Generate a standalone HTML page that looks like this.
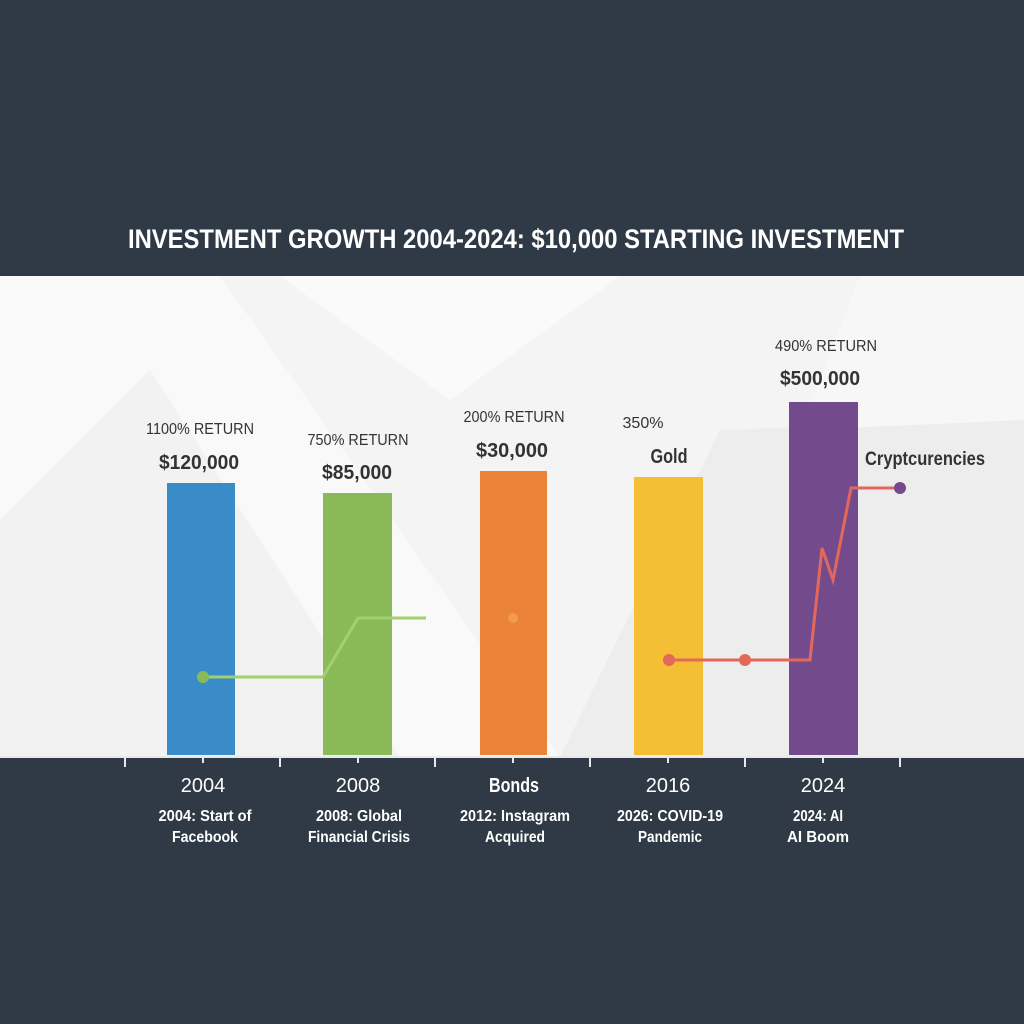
<!DOCTYPE html>
<html><head><style>html,body{margin:0;padding:0;background:#2f3a46}svg{display:block}</style></head><body>
<svg width="1024" height="1024" viewBox="0 0 1024 1024" xmlns="http://www.w3.org/2000/svg" font-family="Liberation Sans, sans-serif">
<rect width="1024" height="1024" fill="#2f3a46"/>
<rect x="0" y="276" width="1024" height="481" fill="#f4f4f4"/>
<polygon points="0,276 220,276 560,757 0,757" fill="#f9f9f9"/>
<polygon points="0,520 150,370 400,757 0,757" fill="#ededed" opacity="0.6"/>
<polygon points="280,276 620,276 450,400" fill="#fafafa"/>
<polygon points="720,430 1024,420 1024,757 560,757" fill="#e9e9e9" opacity="0.7"/>
<polygon points="860,276 1024,276 1024,420 800,430" fill="#f7f7f7"/>
<text x="516" y="248" text-anchor="middle" fill="#fff" font-weight="bold" font-size="27" textLength="776" lengthAdjust="spacingAndGlyphs">INVESTMENT GROWTH 2004-2024: $10,000 STARTING INVESTMENT</text>
<rect x="167" y="483" width="68" height="272" fill="#3a8cc8"/>
<rect x="323" y="493" width="69" height="262" fill="#8aba58"/>
<rect x="480" y="471" width="67" height="284" fill="#ea8238"/>
<rect x="634" y="477" width="69" height="278" fill="#f4bf35"/>
<rect x="789" y="402" width="69" height="353" fill="#734b8d"/>
<g fill="#333" text-anchor="middle">
<text x="200" y="434" font-size="16" textLength="108" lengthAdjust="spacingAndGlyphs">1100% RETURN</text>
<text x="199" y="469" font-size="20" font-weight="bold" textLength="80" lengthAdjust="spacingAndGlyphs">$120,000</text>
<text x="358" y="445" font-size="16" textLength="101" lengthAdjust="spacingAndGlyphs">750% RETURN</text>
<text x="357" y="479" font-size="20" font-weight="bold" textLength="70" lengthAdjust="spacingAndGlyphs">$85,000</text>
<text x="514" y="422" font-size="16" textLength="101" lengthAdjust="spacingAndGlyphs">200% RETURN</text>
<text x="512" y="457" font-size="20" font-weight="bold" textLength="72" lengthAdjust="spacingAndGlyphs">$30,000</text>
<text x="643" y="428" font-size="16" textLength="41" lengthAdjust="spacingAndGlyphs">350%</text>
<text x="669" y="463" font-size="20" font-weight="bold" textLength="37" lengthAdjust="spacingAndGlyphs">Gold</text>
<text x="826" y="351" font-size="16" textLength="102" lengthAdjust="spacingAndGlyphs">490% RETURN</text>
<text x="820" y="385" font-size="20" font-weight="bold" textLength="80" lengthAdjust="spacingAndGlyphs">$500,000</text>
<text x="925" y="465" font-size="19" font-weight="bold" textLength="120" lengthAdjust="spacingAndGlyphs">Cryptcurencies</text>
</g>
<polyline points="203,677 323,677 358,618 426,618" fill="none" stroke="#a2cf70" stroke-width="3"/>
<circle cx="203" cy="677" r="6" fill="#8aba58"/>
<circle cx="513" cy="618" r="5" fill="#f39a50"/>
<polyline points="669,660 810,660 822,548 833,580 851,488 900,488" fill="none" stroke="#e2685a" stroke-width="3"/>
<circle cx="669" cy="660" r="6" fill="#e2685a"/>
<circle cx="745" cy="660" r="6" fill="#e2685a"/>
<circle cx="900" cy="488" r="6" fill="#734b8d"/>
<line x1="0" y1="757" x2="1024" y2="757" stroke="#e8e8e8" stroke-width="2"/>
<g stroke="#e8e8e8" stroke-width="2">
<line x1="125" y1="757" x2="125" y2="767"/><line x1="203" y1="757" x2="203" y2="763"/>
<line x1="280" y1="757" x2="280" y2="767"/><line x1="358" y1="757" x2="358" y2="763"/>
<line x1="435" y1="757" x2="435" y2="767"/><line x1="513" y1="757" x2="513" y2="763"/>
<line x1="590" y1="757" x2="590" y2="767"/><line x1="668" y1="757" x2="668" y2="763"/>
<line x1="745" y1="757" x2="745" y2="767"/><line x1="823" y1="757" x2="823" y2="763"/>
<line x1="900" y1="757" x2="900" y2="767"/>
</g>
<g fill="#fff" text-anchor="middle">
<g font-size="20"><text x="203" y="792">2004</text><text x="358" y="792">2008</text><text x="514" y="792" font-weight="bold" textLength="50" lengthAdjust="spacingAndGlyphs">Bonds</text><text x="668" y="792">2016</text><text x="823" y="792">2024</text></g>
<g font-size="16" font-weight="bold">
<text x="205" y="821" textLength="93" lengthAdjust="spacingAndGlyphs">2004: Start of</text><text x="205" y="842" textLength="66" lengthAdjust="spacingAndGlyphs">Facebook</text>
<text x="359" y="821" textLength="86" lengthAdjust="spacingAndGlyphs">2008: Global</text><text x="359" y="842" textLength="102" lengthAdjust="spacingAndGlyphs">Financial Crisis</text>
<text x="515" y="821" textLength="110" lengthAdjust="spacingAndGlyphs">2012: Instagram</text><text x="515" y="842" textLength="60" lengthAdjust="spacingAndGlyphs">Acquired</text>
<text x="670" y="821" textLength="106" lengthAdjust="spacingAndGlyphs">2026: COVID-19</text><text x="670" y="842" textLength="64" lengthAdjust="spacingAndGlyphs">Pandemic</text>
<text x="818" y="821" textLength="50" lengthAdjust="spacingAndGlyphs">2024: AI</text><text x="818" y="842" textLength="62" lengthAdjust="spacingAndGlyphs">AI Boom</text>
</g></g>
</svg>
</body></html>
